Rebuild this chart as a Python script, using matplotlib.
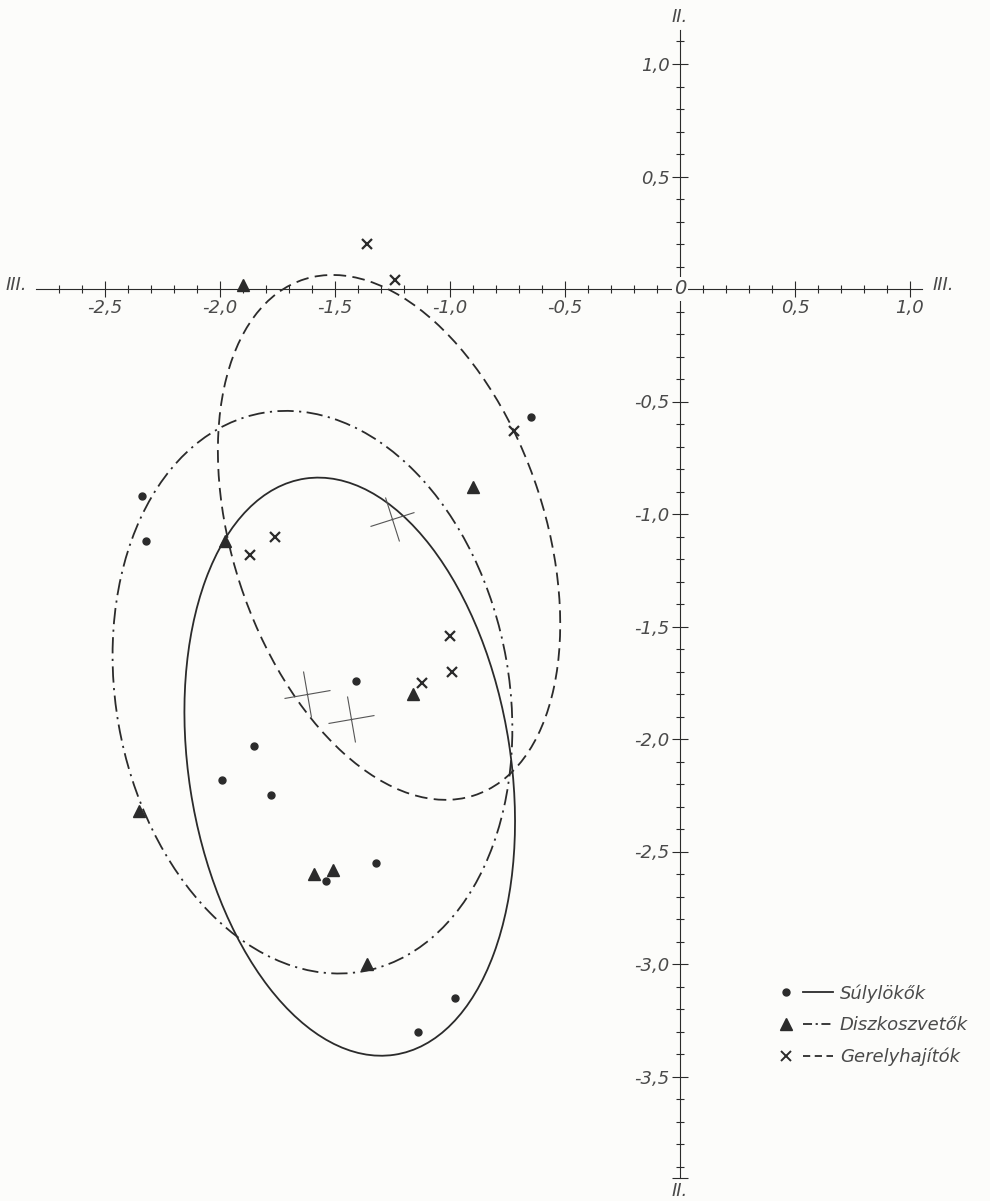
import numpy as np
import matplotlib.pyplot as plt
from matplotlib.patches import Ellipse
from matplotlib.markers import MarkerStyle
from matplotlib.transforms import Affine2D
from matplotlib.lines import Line2D
from matplotlib.legend_handler import HandlerTuple
from matplotlib.ticker import FixedLocator

# -----------------------------
# Factor scores (axis III. horizontal, axis II. vertical)
# -----------------------------
shot_x = [-2.34, -2.32, -0.65, -1.41, -1.85, -1.99, -1.78, -1.32, -1.54, -0.98, -1.14]
shot_y = [-0.92, -1.12, -0.57, -1.74, -2.03, -2.18, -2.25, -2.55, -2.63, -3.15, -3.30]

disc_x = [-1.90, -0.90, -1.98, -1.16, -2.35, -1.59, -1.51, -1.36]
disc_y = [0.02, -0.88, -1.12, -1.80, -2.32, -2.60, -2.58, -3.00]

jav_x = [-1.36, -1.24, -0.72, -1.76, -1.87, -1.00, -0.99, -1.12]
jav_y = [0.20, 0.04, -0.63, -1.10, -1.18, -1.54, -1.70, -1.75]

# group centres (shot, discus, javelin)
cent_x = [-1.43, -1.62, -1.25]
cent_y = [-1.91, -1.80, -1.02]

# ellipses: centre, full axes, rotation in degrees
ell_cx = [-1.436, -1.598, -1.265]
ell_cy = [-2.123, -1.792, -1.104]
ell_w = [2.59, 2.52, 2.41]
ell_h = [1.40, 1.71, 1.36]
ell_ang = [-81.4, -80.3, -72.3]

group_labels = ["Súlylökők", "Diszkoszvetők", "Gerelyhajítók"]

major_x = [-2.5, -2.0, -1.5, -1.0, -0.5, 0.5, 1.0]
major_y = [1.0, 0.5, -0.5, -1.0, -1.5, -2.0, -2.5, -3.0, -3.5]

# -----------------------------
# Styling
# -----------------------------
ink = "#2b2b2b"
txt = "#4a4a4a"
paper = "#fcfcfa"
dash = (0, (7, 3.5))
dashdot = (0, (9, 3, 1.2, 3))
styles = ["-", dashdot, dash]

def fmt(v):
    return ("%.1f" % v).replace(".", ",")

fig = plt.figure(figsize=(9.9, 12.01), dpi=100, facecolor=paper)
ax = fig.add_axes([0, 0, 1, 1], facecolor=paper)
ax.set_xlim(-680 / 230, 310 / 230)
ax.set_ylim((289 - 1201) / 225, 289 / 225)

# axes through the origin
for s in ["top", "right"]:
    ax.spines[s].set_visible(False)
ax.spines["left"].set_position(("data", 0))
ax.spines["bottom"].set_position(("data", 0))
ax.spines["bottom"].set_bounds(-2.8, 1.05)
ax.spines["left"].set_bounds(-3.95, 1.15)
for s in ["left", "bottom"]:
    ax.spines[s].set_color(ink)
    ax.spines[s].set_linewidth(0.8)

ax.xaxis.set_major_locator(FixedLocator(major_x))
ax.xaxis.set_minor_locator(FixedLocator(np.round(np.arange(-2.7, 1.01, 0.1), 1)))
ax.yaxis.set_major_locator(FixedLocator(major_y + [-3.95]))
ax.yaxis.set_minor_locator(FixedLocator(np.round(np.arange(-3.9, 1.11, 0.1), 1)))
ax.set_xticklabels([fmt(v) for v in major_x])
ax.set_yticklabels([fmt(v) for v in major_y] + [""])

ax.tick_params(which="major", direction="inout", length=11, width=0.8, color=ink,
               labelsize=13, labelcolor=txt, pad=2)
ax.tick_params(which="minor", direction="inout", length=6, width=0.8, color=ink)
for lab in ax.get_xticklabels() + ax.get_yticklabels():
    lab.set_fontstyle("italic")

ax.text(0, 0, "0", ha="center", va="center", fontsize=14, style="italic", color=txt,
        bbox=dict(fc=paper, ec="none", pad=1.5), zorder=5)
ax.text(-2.84, 0.02, "III.", ha="right", va="center", fontsize=13, style="italic", color=txt)
ax.text(1.10, 0.02, "III.", ha="left", va="center", fontsize=13, style="italic", color=txt)
ax.text(0, 1.17, "II.", ha="center", va="bottom", fontsize=13, style="italic", color=txt)
ax.text(0, -3.97, "II.", ha="center", va="top", fontsize=13, style="italic", color=txt)

# -----------------------------
# Ellipses and centres
# -----------------------------
for i in range(3):
    ax.add_patch(Ellipse((ell_cx[i], ell_cy[i]), ell_w[i], ell_h[i], angle=ell_ang[i],
                         fill=False, ec=ink, lw=1.3, ls=styles[i]))
    plus = MarkerStyle("+", transform=Affine2D().rotate_deg(ell_ang[i] + 90))
    ax.plot(cent_x[i], cent_y[i], marker=plus, ms=34, mew=0.8, color="#555555", ls="none")

# -----------------------------
# Points
# -----------------------------
ax.plot(shot_x, shot_y, "o", ms=5, color=ink, zorder=4)
ax.plot(disc_x, disc_y, "^", ms=9, color=ink, zorder=4)
ax.plot(jav_x, jav_y, "x", ms=7, mew=1.6, color=ink, zorder=4)

# -----------------------------
# Legend
# -----------------------------
handles = [
    (Line2D([], [], marker="o", ms=5, color=ink, ls="none"),
     Line2D([], [], color=ink, lw=1.3, ls="-")),
    (Line2D([], [], marker="^", ms=9, color=ink, ls="none"),
     Line2D([], [], color=ink, lw=1.3, ls=(0, (5, 2, 1.2, 2)))),
    (Line2D([], [], marker="x", ms=7, mew=1.4, color=ink, ls="none"),
     Line2D([], [], color=ink, lw=1.3, ls=(0, (4, 2.5)))),
]
leg = ax.legend(handles, group_labels, loc="upper left",
                bbox_to_anchor=(755 / 990, 1 - 968 / 1201),
                handler_map={tuple: HandlerTuple(ndivide=None, pad=0.1)},
                handlelength=3.4, handletextpad=0.4, labelspacing=0.75,
                frameon=False, prop=dict(size=13, style="italic"), labelcolor=txt)

fig.savefig("out.png", dpi=100, facecolor=paper)
